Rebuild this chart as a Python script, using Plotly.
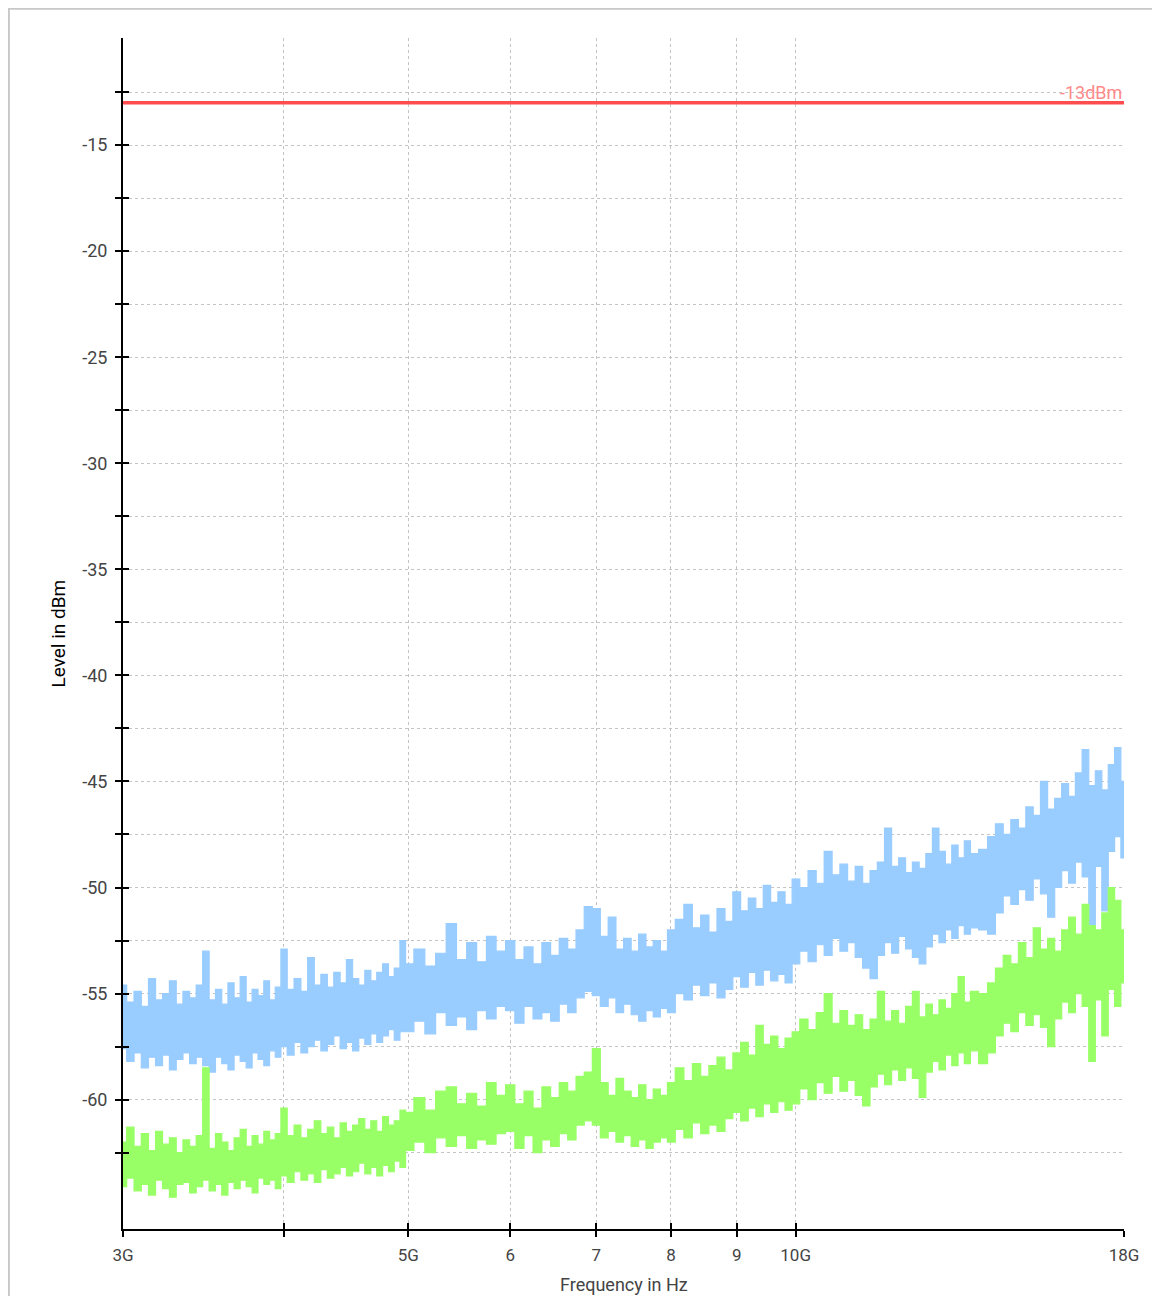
"""Spectrum plot 3-18 GHz: two noisy level traces (blue, green) against a
-13 dBm limit line. Log frequency axis, dotted grid, crossing tick marks.
"""
import plotly.graph_objects as go

INK = "#000000"
TICK_INK = "#444444"
GRID = "#c4c4c4"
BLUE = "#99ccff"
GREEN = "#99ff66"
RED = "#ff4d4d"
RED_TEXT = "#ff8a8a"
FONT = "Roboto, 'Open Sans', sans-serif"

# sweep points, GHz
FREQ_GHZ = [
    3.00, 3.04, 3.08, 3.12, 3.16, 3.20, 3.24, 3.28, 3.32, 3.36, 3.40, 3.44, 3.48,
    3.52, 3.56, 3.60, 3.64, 3.68, 3.72, 3.76, 3.80, 3.84, 3.88, 3.92, 3.96,
    4.00, 4.05, 4.10, 4.15, 4.20, 4.25, 4.30, 4.35, 4.40, 4.45, 4.50, 4.55, 4.60,
    4.65, 4.70, 4.75, 4.80, 4.85, 4.90, 4.95,
    5.0, 5.1, 5.2, 5.3, 5.4, 5.5, 5.6, 5.7, 5.8, 5.9,
    6.0, 6.1, 6.2, 6.3, 6.4, 6.5, 6.6, 6.7, 6.8, 6.9,
    7.0, 7.1, 7.2, 7.3, 7.4, 7.5, 7.6, 7.7, 7.8, 7.9,
    8.0, 8.125, 8.25, 8.375, 8.5, 8.625, 8.75, 8.875, 9.0, 9.125, 9.25, 9.375,
    9.5, 9.625, 9.75, 9.875,
    10.00, 10.15, 10.30, 10.45, 10.60, 10.75, 10.90, 11.05, 11.20, 11.35, 11.50,
    11.65, 11.80, 11.95, 12.10, 12.25, 12.40, 12.55, 12.70, 12.85, 13.00, 13.15,
    13.30, 13.45, 13.60, 13.75,
    14.0, 14.2, 14.4, 14.6, 14.8, 15.0, 15.2, 15.4, 15.6, 15.8, 16.0, 16.2, 16.4,
    16.6, 16.8, 17.0, 17.2, 17.4, 17.6, 17.8, 18.0,
]

# blue trace: upper / lower edge of the noise band, dBm
BLUE_TOP = [
    -54.6, -55.4, -54.9, -55.6, -54.3, -55.3, -55.0, -54.4, -55.5, -54.9, -55.2, -54.6, -53.0,
    -55.3, -54.8, -55.5, -54.5, -55.2, -54.2, -55.4, -54.8, -55.1, -54.4, -55.3, -54.7,
    -52.9, -54.8, -54.3, -54.9, -53.3, -54.6, -54.1, -54.7, -54.0, -54.5, -53.4, -54.3, -54.6,
    -53.9, -54.4, -54.0, -53.6, -54.2, -53.8, -52.5,
    -53.6, -52.9, -53.7, -53.1, -51.7, -53.4, -52.6, -53.5, -52.3, -53.0,
    -52.5, -53.4, -52.8, -53.6, -52.6, -53.2, -52.4, -52.9, -52.0, -50.9,
    -51.0, -52.3, -51.4, -52.9, -52.4, -53.0, -52.2, -52.8, -52.5, -53.0,
    -52.0, -51.5, -50.8, -51.9, -51.3, -52.1, -51.0, -51.6, -50.2, -51.1, -50.5, -51.0,
    -49.9, -50.7, -50.2, -50.8,
    -49.6, -50.0, -49.2, -49.8, -48.3, -49.4, -48.9, -49.7, -49.0, -49.8, -49.2,
    -48.8, -47.2, -49.0, -48.6, -49.3, -48.8, -49.1, -48.4, -47.2, -48.3, -48.9,
    -48.0, -48.6, -47.8, -48.4,
    -48.2, -47.6, -47.0, -47.5, -46.8, -47.2, -46.2, -46.6, -45.0, -46.3, -45.8, -45.1, -45.7,
    -44.6, -43.5, -45.2, -44.5, -45.4, -44.2, -43.4, -45.0,
]
BLUE_BOTTOM = [
    -57.6, -58.2, -57.8, -58.5, -58.0, -58.4, -57.9, -58.6, -58.1, -57.8, -58.3, -58.0, -58.4,
    -58.7, -58.0, -58.3, -58.6, -57.9, -58.2, -58.5, -57.8, -58.1, -58.4, -57.7, -58.0,
    -57.5, -57.9, -57.3, -57.8, -57.5, -57.2, -57.7, -57.4, -57.0, -57.6, -57.3, -57.7, -57.1,
    -57.4, -56.9, -57.3, -57.0, -56.7, -57.2, -56.8,
    -56.8, -56.3, -56.9, -55.9, -56.5, -56.1, -56.7, -55.8, -56.2, -55.6,
    -55.8, -56.4, -55.6, -56.2, -55.9, -56.3, -55.5, -55.9, -55.2, -54.9,
    -55.1, -55.6, -55.2, -55.9, -55.5, -56.0, -56.3, -55.8, -56.1, -55.7,
    -55.9, -55.0, -55.3, -54.6, -55.1, -54.5, -55.2, -54.8, -54.2, -54.7, -54.0, -54.6,
    -53.9, -54.4, -54.1, -54.5,
    -53.6, -53.0, -53.5, -52.7, -53.2, -52.4, -53.0, -52.6, -53.3, -53.8, -54.3,
    -53.2, -52.6, -53.1, -52.3, -52.9, -53.3, -53.6, -52.8, -52.2, -52.6, -52.0,
    -52.4, -51.8, -52.2, -51.9,
    -52.0, -52.2, -51.2, -50.4, -50.8, -50.1, -50.6, -49.6, -50.3, -51.4, -50.0, -49.2, -49.8,
    -48.8, -49.5, -52.0, -49.0, -51.1, -48.3, -47.6, -48.6,
]

# green trace: upper / lower edge of the noise band, dBm
GREEN_TOP = [
    -62.0, -61.3, -62.2, -61.6, -62.4, -61.5, -62.1, -61.8, -62.5, -61.9, -62.2, -61.7, -58.5,
    -62.3, -61.6, -62.0, -62.4, -61.8, -61.4, -62.2, -61.7, -62.1, -61.5, -61.9, -61.6,
    -60.4, -61.7, -61.2, -61.8, -61.4, -61.0, -61.6, -61.3, -61.8, -61.1, -61.5, -61.2, -60.9,
    -61.4, -61.0, -61.5, -60.8, -61.2, -61.0, -60.5,
    -60.6, -59.9, -60.5, -59.6, -59.4, -60.2, -59.7, -60.3, -59.2, -59.8,
    -59.3, -60.2, -59.6, -60.4, -59.4, -59.9, -59.2, -59.6, -58.9, -58.7,
    -57.6, -59.2, -59.8, -59.0, -59.6, -59.9, -59.3, -60.0, -59.5, -59.8,
    -59.2, -58.5, -59.1, -58.3, -58.9, -58.4, -58.0, -58.6, -57.8, -57.3, -57.9, -56.5,
    -57.4, -57.0, -57.6, -57.1,
    -56.8, -56.2, -56.7, -55.9, -55.0, -56.4, -55.8, -56.5, -56.0, -56.7, -56.2,
    -54.9, -56.3, -55.8, -56.4, -55.6, -54.9, -56.1, -55.5, -56.0, -55.3, -55.7,
    -55.0, -54.2, -55.4, -54.9,
    -55.0, -54.5, -53.8, -53.2, -53.6, -52.6, -53.3, -51.9, -52.9, -52.4, -53.0, -52.0, -51.4,
    -52.2, -50.8, -51.8, -52.0, -51.2, -50.0, -50.6, -52.0,
]
GREEN_BOTTOM = [
    -64.1, -63.7, -64.3, -64.0, -64.5, -63.8, -64.2, -64.6, -64.0, -63.9, -64.4, -64.1, -63.8,
    -64.3, -64.0, -64.5, -63.9, -64.2, -63.8, -64.1, -64.4, -63.7, -64.0, -63.8, -64.2,
    -63.6, -63.9, -63.4, -63.8, -63.5, -63.9, -63.3, -63.7, -63.5, -63.2, -63.6, -63.4, -63.0,
    -63.5, -63.2, -63.6, -63.1, -63.4, -62.9, -63.2,
    -62.4, -62.0, -62.5, -61.8, -62.2, -61.7, -62.3, -61.9, -62.1, -61.6,
    -61.5, -62.3, -61.7, -62.5, -61.9, -62.2, -61.6, -61.9, -61.2, -61.0,
    -61.2, -61.8, -61.5, -62.0, -61.7, -62.2, -61.9, -62.3, -62.0, -61.8,
    -62.0, -61.4, -61.8, -61.1, -61.6, -61.2, -61.5, -60.9, -60.6, -61.0, -60.4, -60.8,
    -60.2, -60.6, -60.1, -60.5,
    -60.2, -59.5, -60.0, -59.2, -59.7, -58.9, -59.6, -59.1, -59.8, -60.3, -59.4,
    -58.8, -59.3, -58.6, -59.1, -58.5, -59.0, -59.9, -58.7, -58.2, -58.6, -57.9,
    -58.4, -57.8, -58.3, -57.7,
    -58.3, -57.8, -57.0, -56.4, -56.8, -55.9, -56.5, -56.0, -56.6, -57.5, -56.2, -55.4, -55.9,
    -55.0, -55.6, -58.2, -55.3, -57.0, -54.8, -55.6, -54.5,
]

LIMIT_DBM = -13
LIMIT_LABEL = "-13dBm"

X_TICKS_GHZ = [3, 4, 5, 6, 7, 8, 9, 10, 18]
X_TICK_TEXT = ["3G", "", "5G", "6", "7", "8", "9", "10G", "18G"]
Y_TICKS = [-62.5, -60, -57.5, -55, -52.5, -50, -47.5, -45, -42.5, -40, -37.5, -35,
           -32.5, -30, -27.5, -25, -22.5, -20, -17.5, -15, -12.5]
Y_TICK_TEXT = [str(int(v)) if v % 5 == 0 else "" for v in Y_TICKS]

hz = [f * 1e9 for f in FREQ_GHZ]
xr = [9.4771213, 10.2552725]   # log10(3e9), log10(18e9)
yr = [-66.1, -9.95]

fig = go.Figure()

for top, bottom, col in [(BLUE_TOP, BLUE_BOTTOM, BLUE), (GREEN_TOP, GREEN_BOTTOM, GREEN)]:
    fig.add_trace(go.Scatter(
        x=hz + hz[::-1], y=top + bottom[::-1],
        mode="lines", fill="toself", fillcolor=col,
        line=dict(color=col, width=1.2, shape="hvh"),
        hoverinfo="skip", showlegend=False,
    ))

# limit line sits on the overlay axes (which also carry the inside tick halves)
fig.add_trace(go.Scatter(
    x=[hz[0], hz[-1]], y=[LIMIT_DBM, LIMIT_DBM],
    mode="lines", line=dict(color=RED, width=3.5),
    hoverinfo="skip", showlegend=False,
    xaxis="x2", yaxis="y2",
))

xtv = [v * 1e9 for v in X_TICKS_GHZ]

fig.update_layout(
    width=1152, height=1288,
    margin=dict(l=115, r=36, t=30, b=67),
    paper_bgcolor="white", plot_bgcolor="white",
    font=dict(family=FONT, size=17, color=INK),
    showlegend=False,
    hovermode=False,
    xaxis=dict(
        type="log", range=xr, tickvals=xtv, ticktext=X_TICK_TEXT,
        ticks="outside", ticklen=6, tickwidth=2, tickcolor=INK,
        ticklabelstandoff=4, tickfont=dict(family=FONT, size=17, color=TICK_INK),
        showline=True, linecolor=INK, linewidth=2,
        showgrid=True, gridcolor=GRID, griddash="dot", gridwidth=1,
        zeroline=False,
    ),
    yaxis=dict(
        range=yr, tickvals=Y_TICKS, ticktext=Y_TICK_TEXT,
        ticks="outside", ticklen=6, tickwidth=2, tickcolor=INK,
        ticklabelstandoff=4, tickfont=dict(family=FONT, size=18, color=TICK_INK),
        showline=True, linecolor=INK, linewidth=2,
        showgrid=True, gridcolor=GRID, griddash="dot", gridwidth=1,
        zeroline=False,
    ),
    xaxis2=dict(
        type="log", range=xr, tickvals=xtv, overlaying="x", anchor="y2",
        ticks="inside", ticklen=6, tickwidth=2, tickcolor=INK,
        showticklabels=False, showgrid=False, showline=False, zeroline=False,
    ),
    yaxis2=dict(
        range=yr, tickvals=Y_TICKS, overlaying="y", anchor="x2",
        ticks="inside", ticklen=6, tickwidth=2, tickcolor=INK,
        showticklabels=False, showgrid=False, showline=False, zeroline=False,
    ),
    annotations=[
        dict(text=LIMIT_LABEL, x=xr[1], y=LIMIT_DBM, xref="x2", yref="y2",
             xanchor="right", yanchor="bottom", showarrow=False, yshift=-2,
             font=dict(family=FONT, size=18, color=RED_TEXT)),
        dict(text="Level in dBm", x=0, y=0.5, xref="paper", yref="paper",
             xanchor="center", yanchor="middle", textangle=-90, xshift=-65,
             showarrow=False, font=dict(family=FONT, size=19, color=INK)),
        dict(text="Frequency in Hz", x=0.5, y=0, xref="paper", yref="paper",
             xanchor="center", yanchor="middle", yshift=-55,
             showarrow=False, font=dict(family=FONT, size=18, color=TICK_INK)),
    ],
    shapes=[
        # light frame round the page
        dict(type="rect", xref="paper", yref="paper",
             x0=-0.114, x1=1.2, y0=-0.2, y1=1.0245,
             line=dict(color="#c8c8c8", width=2), fillcolor="rgba(0,0,0,0)"),
    ],
)

fig.write_html("out.html")
